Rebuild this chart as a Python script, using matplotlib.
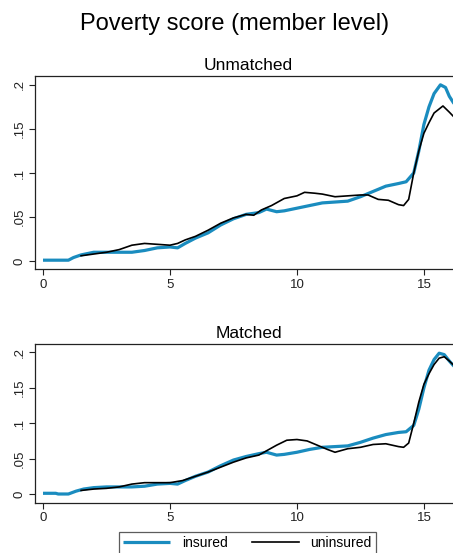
import matplotlib
matplotlib.use("Agg")
import matplotlib.pyplot as plt
import numpy as np

plt.rcParams['font.family'] = ['Liberation Sans', 'DejaVu Sans']

# Kernel density: (poverty score, density)
ins_unm_x = [0, 0.5, 1.0, 1.2, 1.5, 2, 2.5, 3, 3.5, 4, 4.5, 5, 5.3, 5.6, 6, 6.5, 7, 7.5, 8, 8.5,
             8.8, 9.2, 9.5, 10, 10.5, 11, 11.5, 12, 12.5, 13, 13.5, 14, 14.3, 14.6, 14.8, 15,
             15.2, 15.4, 15.65, 15.85, 16, 16.2]
ins_unm_y = [0.001, 0.001, 0.001, 0.004, 0.007, 0.010, 0.010, 0.010, 0.010, 0.012, 0.015, 0.016,
             0.015, 0.020, 0.026, 0.032, 0.041, 0.048, 0.053, 0.055, 0.059, 0.056, 0.057, 0.060,
             0.063, 0.066, 0.067, 0.068, 0.073, 0.079, 0.085, 0.088, 0.090, 0.100, 0.125, 0.155,
             0.175, 0.190, 0.200, 0.197, 0.187, 0.178]

uni_unm_x = [1.5, 2, 2.5, 3, 3.5, 4, 4.5, 5, 5.3, 5.6, 6, 6.5, 7, 7.5, 8, 8.3, 8.6, 9, 9.5, 10,
             10.3, 10.7, 11, 11.5, 12, 12.5, 12.8, 13.2, 13.6, 14, 14.2, 14.4, 14.6, 14.8, 15,
             15.2, 15.4, 15.75, 16, 16.2]
uni_unm_y = [0.006, 0.008, 0.010, 0.013, 0.018, 0.020, 0.019, 0.018, 0.020, 0.024, 0.028, 0.035,
             0.043, 0.049, 0.053, 0.052, 0.058, 0.063, 0.071, 0.074, 0.078, 0.077, 0.076, 0.073,
             0.074, 0.075, 0.075, 0.070, 0.069, 0.064, 0.063, 0.070, 0.100, 0.125, 0.145, 0.157,
             0.168, 0.176, 0.169, 0.163]

ins_mat_x = [0, 0.5, 0.6, 1.0, 1.3, 1.6, 2, 2.5, 3, 3.5, 4, 4.5, 5, 5.3, 5.6, 6, 6.5, 7, 7.5, 8,
             8.5, 8.8, 9.2, 9.5, 10, 10.5, 11, 11.5, 12, 12.5, 13, 13.5, 14, 14.3, 14.6, 14.8, 15,
             15.2, 15.4, 15.6, 15.8, 16, 16.2]
ins_mat_y = [0.001, 0.001, 0.0, 0.0, 0.004, 0.007, 0.009, 0.010, 0.010, 0.010, 0.011, 0.014,
             0.015, 0.014, 0.019, 0.025, 0.031, 0.040, 0.048, 0.053, 0.057, 0.059, 0.055, 0.056,
             0.059, 0.063, 0.066, 0.067, 0.068, 0.073, 0.079, 0.084, 0.087, 0.088, 0.097, 0.120,
             0.150, 0.175, 0.190, 0.199, 0.197, 0.188, 0.180]

uni_mat_x = [1.5, 2, 2.5, 3, 3.5, 4, 4.5, 5, 5.5, 6, 6.5, 7, 7.5, 8, 8.5, 8.8, 9.2, 9.6, 10, 10.4,
             10.8, 11.2, 11.5, 12, 12.5, 13, 13.5, 14, 14.2, 14.4, 14.6, 14.8, 15, 15.2, 15.4,
             15.6, 15.8, 16, 16.2]
uni_mat_y = [0.005, 0.007, 0.008, 0.010, 0.014, 0.016, 0.016, 0.016, 0.019, 0.025, 0.031, 0.038,
             0.045, 0.051, 0.055, 0.061, 0.069, 0.076, 0.077, 0.075, 0.069, 0.063, 0.059, 0.064,
             0.066, 0.070, 0.071, 0.067, 0.066, 0.072, 0.100, 0.130, 0.155, 0.170, 0.183, 0.192,
             0.194, 0.188, 0.181]

BLUE = '#1a8cbf'
yticks = [0, 0.05, 0.1, 0.15, 0.2]
ytick_labels = ['0', '.05', '.1', '.15', '.2']
xticks = [0, 5, 10, 15]

fig = plt.figure(figsize=(4.53, 5.53), dpi=100)
fig.text(235 / 453, 1 - 24 / 553, 'Poverty score (member level)', ha='center', va='center', fontsize=17)

panels = [
    ('Unmatched', [35 / 453, 1 - 269 / 553, 427 / 453, 193 / 553], (-0.009, 0.210),
     ins_unm_x, ins_unm_y, uni_unm_x, uni_unm_y),
    ('Matched', [35 / 453, 1 - 502.7 / 553, 427 / 453, 158.7 / 553], (-0.0123, 0.212),
     ins_mat_x, ins_mat_y, uni_mat_x, uni_mat_y),
]

for title, pos, ylim, ix, iy, ux, uy in panels:
    ax = fig.add_axes(pos)
    ax.plot(ix, iy, color=BLUE, lw=2.3, label='insured', solid_capstyle='butt')
    ax.plot(ux, uy, color='black', lw=1.2, label='uninsured')
    ax.set_xlim(-0.315, 16.5)
    ax.set_ylim(*ylim)
    ax.set_xticks(xticks)
    ax.set_yticks(yticks)
    ax.set_yticklabels(ytick_labels, rotation=90, va='center')
    ax.tick_params(labelsize=9.5, length=4, width=0.8, colors='#222222', pad=3)
    for s in ax.spines.values():
        s.set_linewidth(0.9)
        s.set_color('#222222')
    ax.set_title(title, fontsize=12.5, pad=4)

handles, labels = ax.get_legend_handles_labels()
leg = fig.legend(handles, labels, loc='upper center', bbox_to_anchor=(247.5 / 453, 1 - 532 / 553),
                 ncol=2, fontsize=10, frameon=True, fancybox=False, handlelength=3.4,
                 handletextpad=0.85, columnspacing=1.7, borderpad=0.3, borderaxespad=0,
                 edgecolor='#333333')
leg.get_frame().set_linewidth(0.9)

plt.savefig('out.png', dpi=100)
